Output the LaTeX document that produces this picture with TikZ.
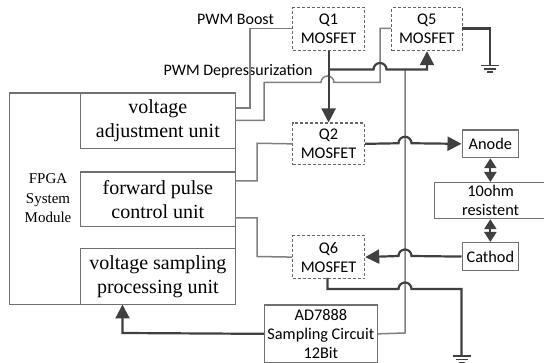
\documentclass[tikz,border=0pt]{standalone}
\usepackage{fontspec}
\setmainfont{Liberation Serif}
\newfontfamily\calfont{Carlito}
\usetikzlibrary{arrows.meta}
\definecolor{boxc}{HTML}{707070}
\definecolor{thinc}{HTML}{7F7F7F}
\definecolor{thickc}{HTML}{404040}
\tikzset{
  x=1pt,y=-1pt,
  sbox/.style={draw=boxc,line width=1.2pt,inner sep=0pt,align=center,text=black,anchor=north west},
  qbox/.style={sbox,dash pattern=on 3pt off 2pt,draw=black!60,font=\calfont\fontsize{16.3}{19}\selectfont},
  ubox/.style={sbox,font=\fontsize{20}{24}\selectfont},
  cbox/.style={sbox,font=\calfont\fontsize{16.3}{19}\selectfont},
  lab/.style={font=\calfont\fontsize{16}{16}\selectfont,inner sep=0pt},
  thinw/.style={draw=thinc,line width=1.5pt},
  thickw/.style={draw=thickc,line width=2.2pt},
  tip/.style={-{Triangle[length=14pt,width=14pt]}},
  bitip/.style={{Triangle[length=10pt,width=12pt]}-{Triangle[length=10pt,width=12pt]}},
}
\begin{document}
\begin{tikzpicture}
\useasboundingbox (0,0) rectangle (544,363);
% FPGA
\node[sbox,minimum width=226.5pt,minimum height=211.5pt] (fpga) at (8.5,92.5) {};
\node[ubox,minimum width=155.5pt,minimum height=55.5pt] (u1) at (79.5,92.5) {voltage\\adjustment unit};
\node[ubox,minimum width=155.5pt,minimum height=54.5pt] (u2) at (79.5,171.5) {forward pulse\\control unit};
\node[ubox,minimum width=155.5pt,minimum height=56pt] (u3) at (79.5,248) {voltage sampling\\processing unit};
\node[font=\fontsize{15}{19.5}\selectfont,align=center,inner sep=0pt] (fl) at (48,198.5) {FPGA\\System\\Module};
% MOSFET
\node[qbox,minimum width=72pt,minimum height=43pt] (q1) at (292,7) {Q1\\MOSFET};
\node[qbox,minimum width=70.5pt,minimum height=43pt] (q5) at (391,7) {Q5\\MOSFET};
\node[qbox,minimum width=72pt,minimum height=41.5pt] (q2) at (292,122.5) {Q2\\MOSFET};
\node[qbox,minimum width=72pt,minimum height=43pt] (q6) at (292,235) {Q6\\MOSFET};
% right
\node[cbox,minimum width=56.5pt,minimum height=27.5pt] (an) at (461.5,129.5) {Anode};
\node[cbox,minimum width=112pt,minimum height=36pt] (res) at (434,182) {10ohm\\resistent};
\node[cbox,minimum width=56.5pt,minimum height=28pt] (ca) at (461.5,242) {Cathod};
\node[cbox,minimum width=112.5pt,minimum height=57.5pt] (ad) at (264,304.5) {AD7888\\Sampling Circuit\\12Bit};
% labels
\node[lab] (l1) at (235.5,19) {PWM Boost};
\node[lab] (l2) at (238,71) {PWM Depressurization};
% thin wires
\draw[thinw] (235,108) -- (250,108) -- (250,28.5) -- (292,28.5);
\draw[thinw] (235,120.5) -- (264,120.5) -- (264,82.5) -- (321,82.5) arc[start angle=180,end angle=360,radius=6.5] -- (380,82.5) -- (380,28.5) -- (q5.west |- 0,28.5);
\draw[thinw] (q2.west) -- (257,143.25) -- (257,181) -- (235,181);
\draw[thinw] (235,218) -- (257,218) -- (257,256.5) -- (q6.west);
\draw[thinw] (405,69.5) -- (405,333) -- (ad.east);
% thick wires
\draw[thickw,tip] (q1.south) -- (q2.north);
\draw[thickw,tip] (q1.south |- 0,69.5) -- (373.5,69.5) arc[start angle=180,end angle=360,radius=6.5] -- (427,69.5) -- (q5.south -| 427,0);
\coordinate (g1) at (490,65);
\draw[thickw] (461.5,28.5) -- (490,28.5) -- (g1);
\draw[thickw,tip] (q2.east) -- (398.5,143.25) arc[start angle=180,end angle=360,radius=6.5] -- (an.west);
\draw[thickw,tip] (ca.west) -- (411.5,256) arc[start angle=0,end angle=-180,radius=6.5] -- (q6.east);
\coordinate (g2) at (461.5,356);
\draw[thickw] (327.5,278) -- (327.5,289) -- (398.5,289) arc[start angle=180,end angle=360,radius=6.5] -- (461.5,289) -- (g2);
\draw[thickw,tip] (ad.west) -- (122.5,333) -- (122.5,304.5);
\draw[thickw,bitip] (an.south) -- (res.north -| an.south);
\draw[thickw,bitip] (res.south -| ca.north) -- (ca.north);
% ground symbols
\draw[thickw,line width=1.7pt] (481,65.5) -- (499,65.5) (484,68.8) -- (496,68.8) (487,72) -- (493,72);
\draw[thickw,line width=1.7pt] (452.5,356) -- (470.5,356) (455.5,359.5) -- (467.5,359.5) (458.5,362.5) -- (464.5,362.5);
\end{tikzpicture}
\end{document}
